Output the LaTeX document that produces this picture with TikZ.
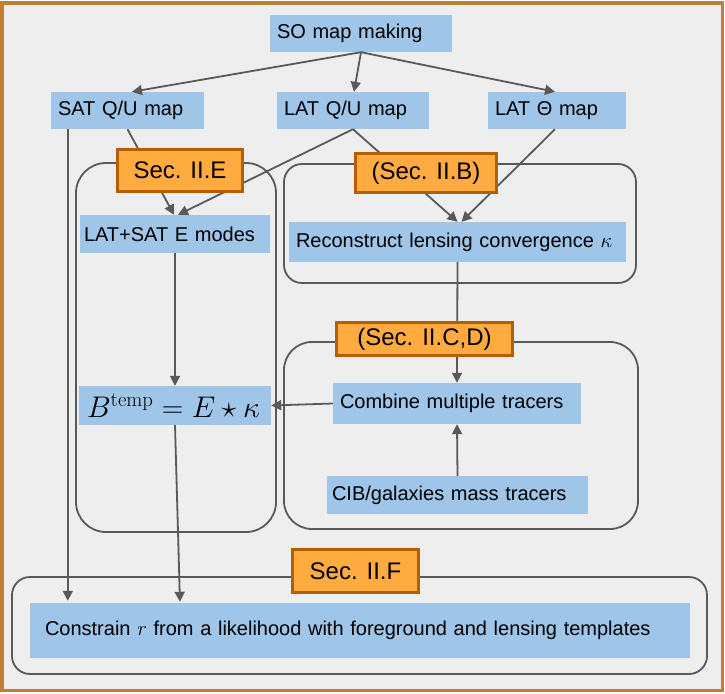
\documentclass[tikz,border=0pt]{standalone}
\usepackage{graphicx}
\usepackage[no-math]{fontspec}
\setmainfont{Liberation Sans}
\usetikzlibrary{arrows.meta}
\definecolor{boxblue}{HTML}{9FC5E8}
\definecolor{secorange}{HTML}{FFAB40}
\definecolor{secbrown}{HTML}{B45F06}
\definecolor{framebrown}{HTML}{C07F33}
\definecolor{bggray}{HTML}{EEEEEE}
\definecolor{linegray}{HTML}{595959}
\begin{document}
\begin{tikzpicture}[x=1pt,y=-1pt,
  blubox/.style={fill=boxblue,text width=#1,inner xsep=7pt,inner ysep=0pt,
    minimum height=37pt,align=left,font=\fontsize{20}{24}\selectfont},
  secbox/.style={fill=secorange,draw=secbrown,line width=3pt,inner sep=0pt,
    font=\fontsize{24}{28}\selectfont},
  group/.style={draw=linegray,line width=1.8pt},
  link/.style={draw=linegray,line width=1.8pt,-{Triangle[length=10pt,width=10pt]}}]
\useasboundingbox (0,0) rectangle (725,693);
% Frame
\fill[bggray] (2,3) rectangle (722.5,690.5);
\draw[framebrown,line width=3.5pt] (2,3) rectangle (722.5,690.5);

% Groups
\draw[group,rounded corners=30pt] (76,163) rectangle (276,532);
\draw[group,rounded corners=18pt] (284,164) rectangle (636,283);
\draw[group,rounded corners=28pt] (284,342) rectangle (638,529);
\draw[group,rounded corners=18pt] (12,577) rectangle (707,674);

% Maps
\node[blubox=168pt] (so) at (361,33.5) {SO map making};
\node[blubox=139pt] (satqu) at (127.5,110.5) {SAT Q/U map};
\node[blubox=138pt] (latqu) at (353,110.5) {LAT Q/U map};
\node[blubox=124pt] (latth) at (557,110.5) {LAT Θ map};

% Processing steps
\node[blubox=182pt,inner xsep=4pt,minimum height=38pt] (emodes) at (175,234) {LAT+SAT E modes};
\node[blubox=323pt,minimum height=40pt] (recon) at (457.5,242) {Reconstruct lensing convergence $\kappa$};
\node[blubox=176pt,inner xsep=8pt,minimum height=39pt] (btemp) at (175,405.5)
  {\fontsize{26}{30}\selectfont\scalebox{1.2}{$B^{\mathrm{temp}}=E\star\kappa$}};
\node[blubox=234pt,minimum height=41pt] (combine) at (457,403.5) {Combine multiple tracers};
\node[blubox=251pt,inner xsep=5pt,minimum height=38pt] (cib) at (457.5,495) {CIB/galaxies mass tracers};
\node[blubox=630pt,inner xsep=15pt,minimum height=55pt] (constrain) at (360,630.5)
  {Constrain $r$ from a likelihood with foreground and lensing templates};

% Connectors
\coordinate (satdrop) at ([xshift=17pt]satqu.south west);
\draw[link] (so.south) -- ([xshift=4.5pt]satqu.north);
\draw[link] (so.south) -- ([xshift=1pt]latqu.north);
\draw[link] (so.south) -- ([xshift=-2pt]latth.north);
\draw[link] (satqu.south) -- ([xshift=-1pt]emodes.north);
\draw[link] (latqu.south) -- ([xshift=3pt]emodes.north);
\draw[link] (latqu.south) -- (recon.north);
\draw[link] ([xshift=-2pt]latth.south) -- ([xshift=4pt]recon.north);
\draw[link,shorten >=2pt] (satdrop) -- (satdrop |- constrain.north);
\draw[link] (emodes.south) -- (btemp.north);
\draw[link,shorten >=1pt] (btemp.south) -- ([xshift=-180pt]constrain.north);
\draw[link] (recon.south) -- (combine.north);
\draw[link] (cib.north) -- (combine.south);
\draw[link] (combine.west) -- (btemp.east);

% Section labels
\node[secbox,minimum width=125pt,minimum height=42pt] (secE) at (180,170.5) {Sec. II.E};
\node[secbox,minimum width=141pt,minimum height=39pt] (secB) at (426,173) {(Sec. II.B)};
\node[secbox,minimum width=176pt,minimum height=33pt] (secCD) at (424.5,339) {(Sec. II.C,D)};
\node[secbox,minimum width=126pt,minimum height=43pt] (secF) at (355.5,571) {Sec. II.F};
\end{tikzpicture}
\end{document}
